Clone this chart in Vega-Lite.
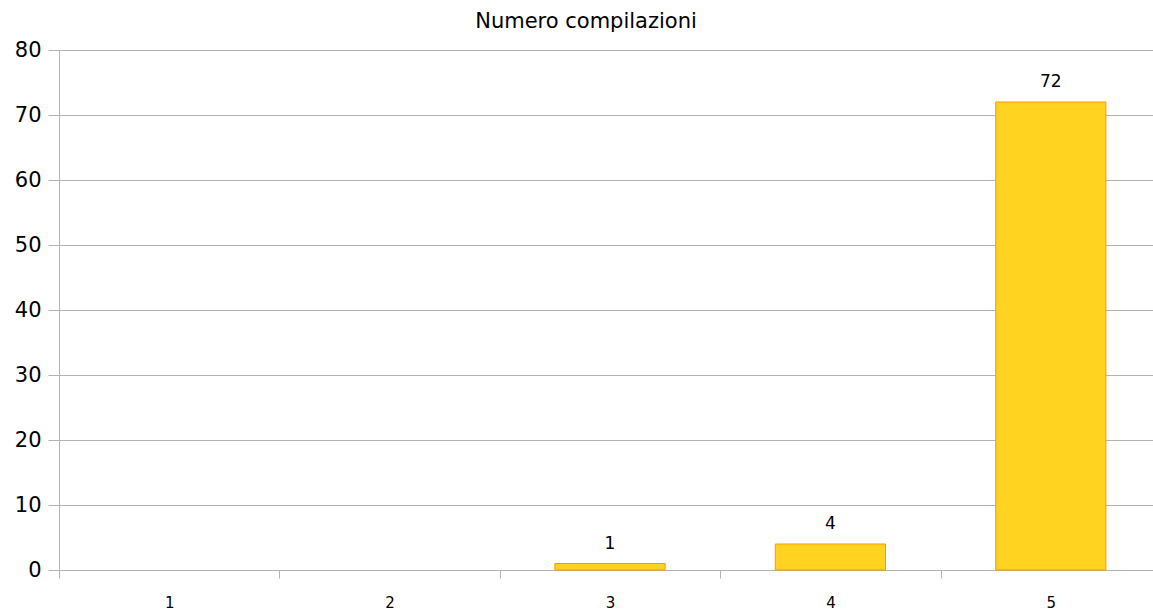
{
  "$schema": "https://vega.github.io/schema/vega-lite/v6.json",
  "autosize": "none",
  "padding": {"left": 59, "top": 50, "right": 0, "bottom": 43},
  "width": 1102,
  "height": 520,
  "background": "white",
  "title": {
    "text": "Numero compilazioni",
    "anchor": "middle",
    "frame": "group",
    "dx": -24,
    "offset": 7,
    "font": "DejaVu Sans",
    "fontSize": 21,
    "fontWeight": "normal",
    "color": "#000000"
  },
  "data": {
    "values": [
      {"categoria": "1", "valore": null},
      {"categoria": "2", "valore": null},
      {"categoria": "3", "valore": 1},
      {"categoria": "4", "valore": 4},
      {"categoria": "5", "valore": 72}
    ]
  },
  "config": {
    "view": {"stroke": null},
    "font": "DejaVu Sans"
  },
  "encoding": {
    "x": {
      "field": "categoria",
      "type": "ordinal",
      "scale": {"domain": ["1", "2", "3", "4", "5"], "paddingInner": 0, "paddingOuter": 0},
      "axis": {
        "title": null,
        "labelAngle": 0,
        "labelFont": "DejaVu Sans",
        "labelFontSize": 15,
        "labelColor": "#000000",
        "labelPadding": 17,
        "domainColor": "#b3b3b3",
        "tickColor": "#b3b3b3",
        "tickBand": "extent",
        "tickSize": 8,
        "grid": false
      }
    },
    "y": {
      "field": "valore",
      "type": "quantitative",
      "scale": {"domain": [0, 80]},
      "axis": {
        "title": null,
        "values": [0, 10, 20, 30, 40, 50, 60, 70, 80],
        "labelFont": "DejaVu Sans",
        "labelFontSize": 21,
        "labelColor": "#000000",
        "labelPadding": 7,
        "domainColor": "#b3b3b3",
        "tickColor": "#b3b3b3",
        "tickSize": 11,
        "gridColor": "#b3b3b3",
        "grid": true
      }
    }
  },
  "layer": [
    {
      "mark": {"type": "bar", "width": {"band": 0.5}, "fill": "#ffd320", "stroke": "#ff9900", "strokeWidth": 1}
    },
    {
      "mark": {"type": "text", "baseline": "bottom", "dy": -11, "fontSize": 17, "font": "DejaVu Sans", "color": "#000000"},
      "encoding": {"text": {"field": "valore", "type": "quantitative"}}
    }
  ]
}
